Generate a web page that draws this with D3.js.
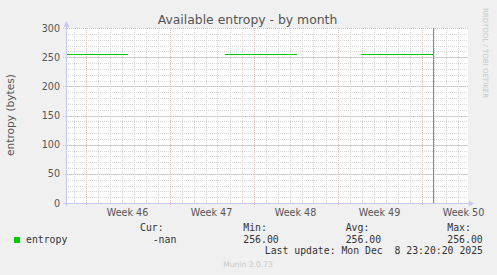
<!DOCTYPE html>
<html>
<head>
<meta charset="utf-8">
<script src="https://cdn.jsdelivr.net/npm/d3@7"></script>
<style>
  body { margin: 0; background: #f0f0f0; }
  text { font-family: "DejaVu Sans", sans-serif; fill: #555; }
  .mono { font-family: "DejaVu Sans Mono", monospace; font-size: 9.8px; fill: #333; }
</style>
</head>
<body>
<div id="chart"></div>
<script>
// time window of the month graph (UTC)
const startTime = new Date(Date.UTC(2025, 10, 8, 9, 0));
const endTime = new Date(Date.UTC(2025, 11, 11, 21, 0));
const nowTime = new Date(Date.UTC(2025, 11, 8, 23, 20));

// entropy samples, null = no data (gap)
const sampleTimes = [
  startTime,
  new Date(Date.UTC(2025, 10, 13, 13, 30)),
  new Date(Date.UTC(2025, 10, 17, 0, 0)),
  new Date(Date.UTC(2025, 10, 21, 14, 30)),
  new Date(Date.UTC(2025, 10, 27, 15, 20)),
  new Date(Date.UTC(2025, 11, 1, 0, 0)),
  new Date(Date.UTC(2025, 11, 2, 22, 40)),
  nowTime
];
const entropyValues = [256, 256, null, 256, 256, null, 256, 256];

const weekLabels = ["Week 46", "Week 47", "Week 48", "Week 49", "Week 50"];
const yTicks = [0, 50, 100, 150, 200, 250, 300];

const legendHeaders = ["Cur:", "Min:", "Avg:", "Max:"];
const legendValues = ["-nan", "256.00", "256.00", "256.00"];

const width = 497, height = 275;
const pLeft = 66, pRight = 468, pTop = 28, pBottom = 203;

const svg = d3.select("#chart").append("svg")
  .attr("width", width)
  .attr("height", height);

svg.append("rect").attr("width", width).attr("height", height).attr("fill", "#f0f0f0");
svg.append("rect").attr("x", pLeft).attr("y", pTop)
  .attr("width", pRight - pLeft).attr("height", pBottom - pTop).attr("fill", "#fff");

const x = d3.scaleUtc().domain([startTime, endTime]).range([pLeft, pRight]);
const y = d3.scaleLinear().domain([0, 300]).range([pBottom, pTop]);

const grid = svg.append("g").attr("shape-rendering", "crispEdges");

// minor grid: every day / every 10
grid.selectAll(".vmin")
  .data(d3.utcDay.range(startTime, endTime))
  .enter().append("line")
  .attr("x1", d => Math.round(x(d)) + 0.5).attr("x2", d => Math.round(x(d)) + 0.5)
  .attr("y1", pTop).attr("y2", pBottom)
  .attr("stroke", "#d6d6d6").attr("stroke-dasharray", "1,1");
grid.selectAll(".hmin")
  .data(d3.range(10, 300, 10))
  .enter().append("line")
  .attr("x1", pLeft).attr("x2", pRight)
  .attr("y1", d => Math.round(y(d)) + 0.5).attr("y2", d => Math.round(y(d)) + 0.5)
  .attr("stroke", "#d6d6d6").attr("stroke-dasharray", "1,1");

// major grid: mondays / every 50
grid.selectAll(".vmaj")
  .data(d3.utcMonday.range(startTime, endTime))
  .enter().append("line")
  .attr("x1", d => Math.round(x(d)) + 0.5).attr("x2", d => Math.round(x(d)) + 0.5)
  .attr("y1", pTop).attr("y2", pBottom + 3)
  .attr("stroke", "#ecb8b8").attr("stroke-dasharray", "1,1");
grid.selectAll(".hmaj")
  .data(yTicks)
  .enter().append("line")
  .attr("x1", pLeft - 3).attr("x2", pRight)
  .attr("y1", d => Math.round(y(d)) + 0.5).attr("y2", d => Math.round(y(d)) + 0.5)
  .attr("stroke", "#ecb8b8").attr("stroke-dasharray", "1,1");

// y tick labels
svg.selectAll(".ylab")
  .data(yTicks)
  .enter().append("text")
  .attr("x", 60).attr("y", d => y(d) + 3.5)
  .attr("text-anchor", "end")
  .style("font-size", "9.6px")
  .text(d => d);

// week labels centred on each week
const mondays = d3.utcMonday.range(d3.utcMonday.floor(startTime), endTime);
svg.selectAll(".xlab")
  .data(weekLabels)
  .enter().append("text")
  .attr("x", (d, i) => x(d3.utcHour.offset(mondays[i + 1], 84)))
  .attr("y", 216)
  .attr("text-anchor", "middle")
  .style("font-size", "9.6px")
  .text(d => d);

// data line
const line = d3.line()
  .defined((d, i) => entropyValues[i] !== null)
  .x(d => x(d))
  .y((d, i) => Math.round(y(entropyValues[i])) + 0.5);
svg.append("path")
  .datum(sampleTimes)
  .attr("d", line)
  .attr("fill", "none")
  .attr("stroke", "#00cc00")
  .attr("stroke-width", 1)
  .attr("shape-rendering", "crispEdges");

// axes with arrows
svg.append("line")
  .attr("x1", pLeft + 0.5).attr("x2", pLeft + 0.5).attr("y1", 24).attr("y2", pBottom + 3)
  .attr("stroke", "#c8c8f4").attr("shape-rendering", "crispEdges");
svg.append("line")
  .attr("x1", pLeft - 3).attr("x2", pRight + 2).attr("y1", pBottom + 0.5).attr("y2", pBottom + 0.5)
  .attr("stroke", "#c8c8f4").attr("shape-rendering", "crispEdges");
svg.append("path")
  .attr("d", `M${pLeft - 2.5},${pTop - 1}L${pLeft + 3.5},${pTop - 1}L${pLeft + 0.5},${pTop - 7}Z`)
  .attr("fill", "#c8c8f4");
svg.append("path")
  .attr("d", `M${pRight + 1},${pBottom - 2.5}L${pRight + 1},${pBottom + 3.5}L${pRight + 6},${pBottom + 0.5}Z`)
  .attr("fill", "#c8c8f4");

// now marker
svg.append("line")
  .attr("x1", Math.round(x(nowTime)) + 0.5).attr("x2", Math.round(x(nowTime)) + 0.5)
  .attr("y1", pTop).attr("y2", pBottom)
  .attr("stroke", "#888").attr("shape-rendering", "crispEdges");

// title and axis label
svg.append("text")
  .attr("x", 247.5).attr("y", 24)
  .attr("text-anchor", "middle")
  .style("font-size", "12.4px")
  .text("Available entropy - by month");
svg.append("text")
  .attr("transform", "translate(14,115) rotate(-90)")
  .attr("text-anchor", "middle")
  .style("font-size", "10.6px")
  .text("entropy (bytes)");

svg.append("text")
  .attr("transform", "translate(483,53) rotate(90)")
  .attr("text-anchor", "middle")
  .style("font-size", "7px")
  .style("fill", "#c8c8c8")
  .text("RRDTOOL / TOBI OETIKER");

// legend
svg.append("rect")
  .attr("x", 14).attr("y", 237).attr("width", 6).attr("height", 6)
  .attr("fill", "#00cc00");
svg.append("text").attr("class", "mono").attr("x", 26).attr("y", 243).text("entropy");

const colX = [140, 243.3, 345.7, 447.3];
svg.selectAll(".lh")
  .data(legendHeaders)
  .enter().append("text")
  .attr("class", "mono")
  .attr("x", (d, i) => colX[i]).attr("y", 231)
  .text(d => d);
svg.selectAll(".lv")
  .data(legendValues)
  .enter().append("text")
  .attr("class", "mono")
  .attr("x", (d, i) => i === 0 ? 152.7 : colX[i]).attr("y", 243)
  .text(d => d);

svg.append("text").attr("class", "mono")
  .attr("x", 483).attr("y", 254)
  .attr("text-anchor", "end")
  .attr("xml:space", "preserve")
  .style("white-space", "pre")
  .text("Last update: Mon Dec  8 23:20:20 2025");

svg.append("text")
  .attr("x", 248).attr("y", 267)
  .attr("text-anchor", "middle")
  .style("font-size", "7.6px")
  .style("fill", "#c8c8c8")
  .text("Munin 2.0.73");
</script>
</body>
</html>
